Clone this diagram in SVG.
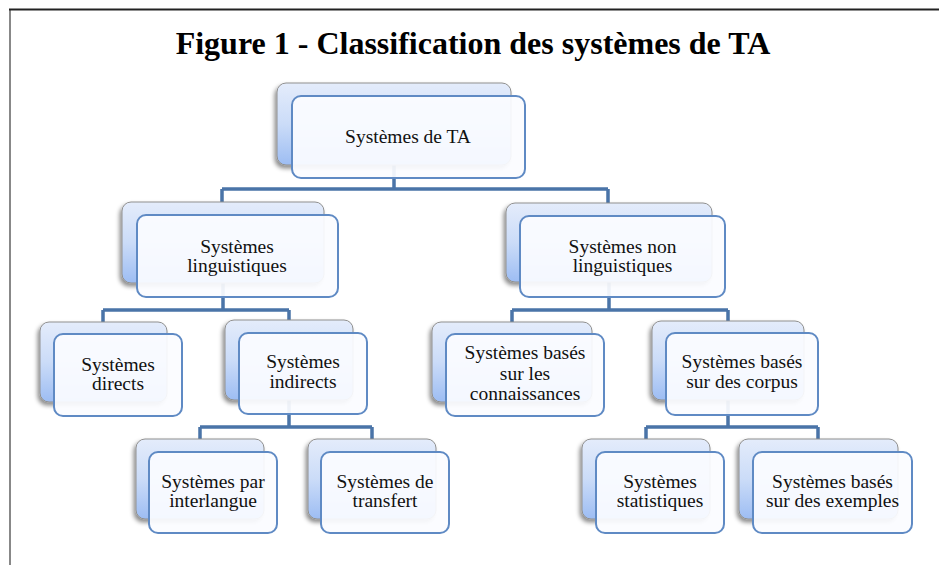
<svg xmlns="http://www.w3.org/2000/svg" width="939" height="565" viewBox="0 0 939 565">
<defs>
<linearGradient id="bg" x1="0" y1="0" x2="0" y2="1">
<stop offset="0" stop-color="#e4ecfb"/>
<stop offset="0.5" stop-color="#cbdcf8"/>
<stop offset="1" stop-color="#9dbdf3"/>
</linearGradient>
<filter id="sh" x="-10%" y="-10%" width="120%" height="130%">
<feDropShadow dx="-2" dy="3" stdDeviation="2" flood-color="#000" flood-opacity="0.45"/>
</filter>
</defs>
<style>
.back{fill:url(#bg);stroke:#8f8f8f;stroke-width:1;filter:url(#sh)}
.front{fill:#fbfcff;fill-opacity:0.93;stroke:#5f8ac4;stroke-width:2}
.t{font-family:"Liberation Serif","Times New Roman",serif;font-size:19.5px;fill:#111;text-anchor:middle}
.title{font-family:"Liberation Serif","Times New Roman",serif;font-size:32px;font-weight:bold;fill:#000;text-anchor:middle}
.c{fill:none;stroke:#4a74a8;stroke-width:3.5}
</style>
<rect x="0" y="0" width="939" height="565" fill="#fff"/>
<path d="M10 565 V9.5" stroke="#888" stroke-width="2" fill="none"/>
<path d="M9 9.5 H939" stroke="#222" stroke-width="2" fill="none"/>
<text class="title" x="473" y="54">Figure 1 - Classification des systèmes de TA</text>

<g id="connectors">
<path class="c" d="M394 165 V189 M222 189 H608 M222 189 V203 M608 189 V203"/>
<path class="c" d="M223 283 V310 M103 310 H289 M103 310 V322 M289 310 V320"/>
<path class="c" d="M609 282 V310 M512 310 H728 M512 310 V322 M728 310 V321"/>
<path class="c" d="M289 400 V427 M200 427 H372 M200 427 V439 M372 427 V439"/>
<path class="c" d="M728 400 V427 M646 427 H818 M646 427 V439 M818 427 V439"/>
</g>

<g id="root">
<rect class="back" x="277" y="83" width="234" height="82" rx="9"/>
<rect class="front" x="292" y="96" width="233" height="82" rx="9"/>
<text class="t" x="408" y="143">Systèmes de TA</text>
</g>

<g id="linguistiques">
<rect class="back" x="122" y="202" width="202" height="81" rx="9"/>
<rect class="front" x="137" y="215" width="201" height="82" rx="9"/>
<text class="t" x="237" y="253">Systèmes</text>
<text class="t" x="237" y="272">linguistiques</text>
</g>

<g id="non-linguistiques">
<rect class="back" x="506" y="203" width="206" height="79" rx="9"/>
<rect class="front" x="520" y="216" width="205" height="81" rx="9"/>
<text class="t" x="622.5" y="253">Systèmes non</text>
<text class="t" x="622.5" y="272">linguistiques</text>
</g>

<g id="directs">
<rect class="back" x="40" y="322" width="127" height="80" rx="9"/>
<rect class="front" x="54" y="334" width="128" height="82" rx="9"/>
<text class="t" x="118" y="371">Systèmes</text>
<text class="t" x="118" y="390">directs</text>
</g>

<g id="indirects">
<rect class="back" x="225" y="320" width="128" height="80" rx="9"/>
<rect class="front" x="239" y="333" width="128" height="81" rx="9"/>
<text class="t" x="303" y="368">Systèmes</text>
<text class="t" x="303" y="388">indirects</text>
</g>

<g id="connaissances">
<rect class="back" x="432" y="322" width="160" height="80" rx="9"/>
<rect class="front" x="446" y="334" width="158" height="82" rx="9"/>
<text class="t" x="525" y="359">Systèmes basés</text>
<text class="t" x="525" y="380">sur les</text>
<text class="t" x="525" y="400">connaissances</text>
</g>

<g id="corpus">
<rect class="back" x="652" y="321" width="152" height="79" rx="9"/>
<rect class="front" x="666" y="333" width="152" height="82" rx="9"/>
<text class="t" x="742" y="368">Systèmes basés</text>
<text class="t" x="742" y="388">sur des corpus</text>
</g>

<g id="interlangue">
<rect class="back" x="136" y="439" width="128" height="80" rx="9"/>
<rect class="front" x="149" y="452" width="128" height="81" rx="9"/>
<text class="t" x="213" y="488">Systèmes par</text>
<text class="t" x="213" y="507">interlangue</text>
</g>

<g id="transfert">
<rect class="back" x="308" y="439" width="128" height="80" rx="9"/>
<rect class="front" x="321" y="452" width="128" height="81" rx="9"/>
<text class="t" x="385" y="488">Systèmes de</text>
<text class="t" x="385" y="507">transfert</text>
</g>

<g id="statistiques">
<rect class="back" x="582" y="439" width="128" height="80" rx="9"/>
<rect class="front" x="596" y="452" width="128" height="81" rx="9"/>
<text class="t" x="660" y="488">Systèmes</text>
<text class="t" x="660" y="507">statistiques</text>
</g>

<g id="exemples">
<rect class="back" x="739" y="439" width="159" height="80" rx="9"/>
<rect class="front" x="753" y="452" width="159" height="81" rx="9"/>
<text class="t" x="832.5" y="488">Systèmes basés</text>
<text class="t" x="832.5" y="507">sur des exemples</text>
</g>
</svg>
